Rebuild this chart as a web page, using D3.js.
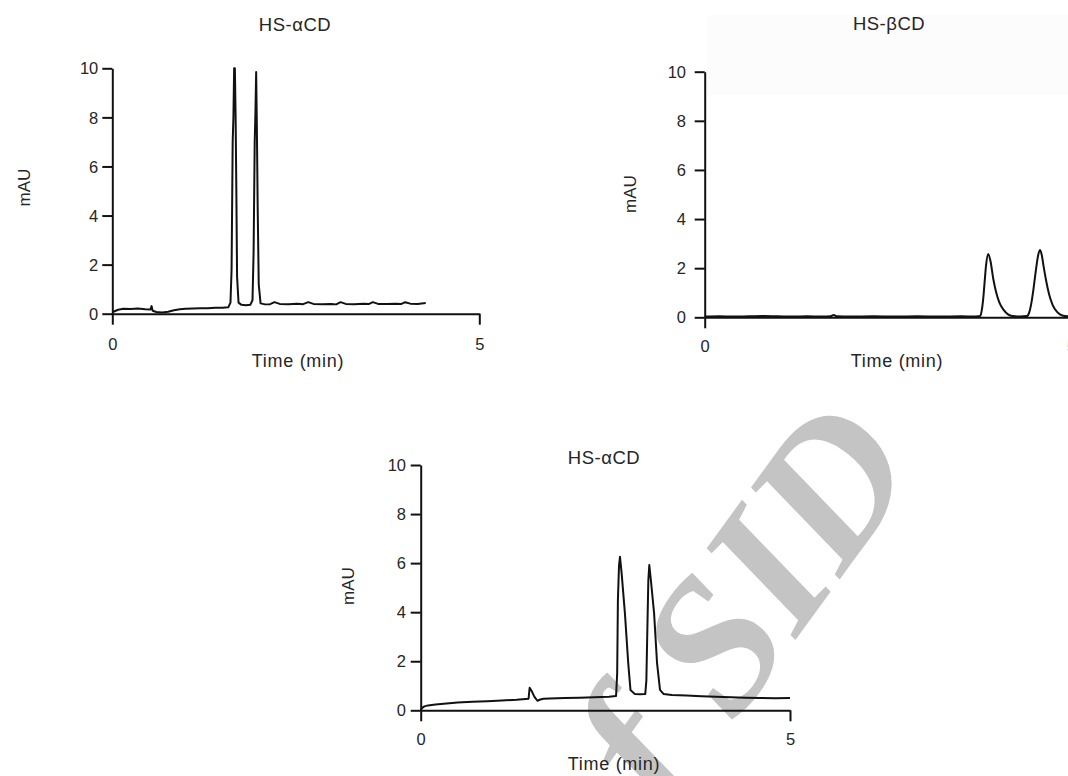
<!DOCTYPE html>
<html>
<head>
<meta charset="utf-8">
<script src="https://cdn.jsdelivr.net/npm/d3@7"></script>
<style>
  html, body { margin: 0; padding: 0; background: #fff; }
  svg { display: block; }
  text { font-family: "Liberation Sans", Arial, sans-serif; fill: #262626; }
</style>
</head>
<body>
<svg id="chart" width="1068" height="776"></svg>
<script>
// ---------------- data ----------------
const panelTitles = ["HS-\u03b1CD", "HS-\u03b2CD", "HS-\u03b1CD"];
const xTickValues = [0, 5];
const yTickValues = [0, 2, 4, 6, 8, 10];
const xAxisTitle = "Time (min)";
const yAxisTitle = "mAU";
const watermarkText = "Archive of SID";

// HS-αCD, first run (time in min, absorbance in mAU)
const alphaTime = [0.00, 0.03, 0.08, 0.15, 0.25, 0.35, 0.45, 0.52, 0.535, 0.55, 0.60, 0.68, 0.76, 0.84, 0.92,
  1.00, 1.10, 1.20, 1.30, 1.40, 1.50, 1.58, 1.61, 1.625, 1.64, 1.65, 1.66, 1.67, 1.68, 1.69, 1.70, 1.72,
  1.76, 1.82, 1.88, 1.91, 1.925, 1.94, 1.95, 1.96, 1.97, 1.98, 1.995, 2.02, 2.08, 2.15, 2.21, 2.28, 2.40,
  2.52, 2.60, 2.67, 2.74, 2.86, 2.98, 3.05, 3.11, 3.18, 3.30, 3.42, 3.50, 3.55, 3.62, 3.74, 3.86, 3.94,
  3.99, 4.06, 4.16, 4.27];
const alphaMAU = [0.06, 0.10, 0.16, 0.20, 0.19, 0.21, 0.18, 0.17, 0.31, 0.12, 0.07, 0.05, 0.08, 0.14, 0.18,
  0.20, 0.21, 0.22, 0.22, 0.24, 0.24, 0.26, 0.45, 1.8, 7.0, 8.0, 10.0, 10.0, 8.0, 5.0, 1.5, 0.45,
  0.36, 0.34, 0.36, 0.55, 2.5, 7.0, 8.2, 9.85, 7.5, 4.5, 1.2, 0.42, 0.38, 0.39, 0.47, 0.40, 0.39,
  0.41, 0.39, 0.47, 0.40, 0.39, 0.40, 0.38, 0.47, 0.40, 0.39, 0.41, 0.40, 0.47, 0.40, 0.40, 0.41, 0.40,
  0.47, 0.41, 0.40, 0.44];

// HS-βCD
const betaTime = [0.0, 0.2, 0.4, 0.6, 0.8, 1.0, 1.2, 1.4, 1.6, 1.72, 1.76, 1.80, 2.0, 2.3, 2.6, 2.9, 3.2,
  3.5, 3.7, 3.76, 3.78, 3.80, 3.82, 3.84, 3.87, 3.90, 3.94, 3.98, 4.02, 4.08, 4.14, 4.20, 4.30, 4.40,
  4.43, 4.46, 4.49, 4.52, 4.55, 4.575, 4.60, 4.63, 4.66, 4.70, 4.75, 4.81, 4.88, 4.95, 5.0];
const betaMAU = [0.03, 0.04, 0.03, 0.04, 0.05, 0.04, 0.03, 0.04, 0.03, 0.04, 0.09, 0.04, 0.03, 0.04, 0.03,
  0.04, 0.03, 0.04, 0.03, 0.05, 0.25, 0.70, 1.40, 2.10, 2.58, 2.30, 1.55, 1.00, 0.62, 0.30, 0.12, 0.05,
  0.03, 0.05, 0.20, 0.60, 1.20, 1.90, 2.50, 2.74, 2.55, 2.00, 1.50, 0.95, 0.50, 0.22, 0.07, 0.04, 0.04];

// HS-αCD, second run
const alpha2Time = [0.00, 0.02, 0.05, 0.10, 0.20, 0.35, 0.50, 0.70, 0.90, 1.10, 1.30, 1.46, 1.475, 1.50,
  1.54, 1.58, 1.62, 1.66, 1.75, 1.95, 2.15, 2.35, 2.55, 2.645, 2.66, 2.67, 2.685, 2.698, 2.72, 2.765,
  2.81, 2.84, 2.90, 2.97, 3.04, 3.055, 3.07, 3.082, 3.095, 3.12, 3.16, 3.20, 3.24, 3.29, 3.40, 3.60,
  3.80, 4.00, 4.20, 4.40, 4.60, 4.80, 5.00];
const alpha2MAU = [0.00, 0.10, 0.16, 0.20, 0.24, 0.28, 0.32, 0.35, 0.37, 0.40, 0.43, 0.47, 0.92, 0.80,
  0.55, 0.39, 0.44, 0.47, 0.48, 0.50, 0.51, 0.53, 0.55, 0.58, 1.5, 4.5, 5.9, 6.26, 5.6, 3.95,
  1.92, 0.83, 0.66, 0.65, 0.66, 1.2, 3.5, 5.3, 5.92, 5.2, 3.95, 1.92, 0.83, 0.66, 0.62, 0.60,
  0.57, 0.55, 0.53, 0.51, 0.50, 0.49, 0.50];

// ---------------- layout ----------------
const panels = [
  { title: panelTitles[0], time: alphaTime, mau: alphaMAU, curve: d3.curveLinear,
    xr: [112.3, 479.3], yr: [313.7, 68.3], yPad: 14, xLabOff: 36.3,
    titlePos: [295, 30.7], xTitlePos: [298, 367], yTitlePos: [30, 187.5] },
  { title: panelTitles[1], time: betaTime, mau: betaMAU, curve: d3.curveMonotoneX,
    xr: [704.7, 1071], yr: [317.3, 71.7], yPad: 18.7, xLabOff: 34.4,
    titlePos: [889, 30], xTitlePos: [897, 367], yTitlePos: [636, 194] },
  { title: panelTitles[2], time: alpha2Time, mau: alpha2MAU, curve: d3.curveLinear,
    xr: [420.7, 790], yr: [710.3, 465], yPad: 14.7, xLabOff: 34.7,
    titlePos: [604, 464.3], xTitlePos: [614, 770], yTitlePos: [354, 586] }
];

const svg = d3.select("#chart");

// very faint shaded band behind the HS-βCD heading
svg.append("rect")
  .attr("x", 707).attr("y", 15).attr("width", 361).attr("height", 80)
  .attr("fill", "#fcfcfc");

// diagonal watermark, drawn first so the traces sit on top
svg.append("text")
  .attr("transform", "translate(922,466) rotate(-54)")
  .attr("text-anchor", "end")
  .style("font-family", '"Liberation Serif", "Times New Roman", serif')
  .style("font-style", "italic")
  .style("font-weight", "bold")
  .style("font-size", "192px")
  .style("fill", "#c4c4c4")
  .text(watermarkText);

panels.forEach(p => {
  const x = d3.scaleLinear().domain([0, 5]).range(p.xr);
  const y = d3.scaleLinear().domain([0, 10]).range(p.yr);
  const g = svg.append("g");

  // y axis
  const ya = g.append("g")
    .attr("transform", `translate(${p.xr[0]},0)`)
    .call(d3.axisLeft(y).tickValues(yTickValues).tickSize(10).tickSizeOuter(0).tickFormat(d3.format("d")));
  ya.selectAll("text").attr("x", -p.yPad).attr("dy", "0.34em")
    .style("font-size", "16.5px").style("fill", "#262626");

  // x axis
  const xa = g.append("g")
    .attr("transform", `translate(0,${p.yr[0]})`)
    .call(d3.axisBottom(x).tickValues(xTickValues).tickSize(11).tickSizeOuter(0).tickFormat(d3.format("d")));
  xa.selectAll("text").attr("y", p.xLabOff).attr("dy", 0)
    .style("font-size", "16.5px").style("fill", "#262626");

  g.selectAll(".domain, .tick line")
    .attr("stroke", "#111").attr("stroke-width", 2);

  // trace
  const pts = p.time.map((t, i) => [t, p.mau[i]]);
  g.append("path")
    .datum(pts)
    .attr("fill", "none")
    .attr("stroke", "#111")
    .attr("stroke-width", 2)
    .attr("stroke-linejoin", "round")
    .attr("d", d3.line().x(d => x(d[0])).y(d => y(d[1])).curve(p.curve));

  // headings
  g.append("text")
    .attr("x", p.titlePos[0]).attr("y", p.titlePos[1])
    .attr("text-anchor", "middle")
    .style("font-size", "18.5px").style("letter-spacing", "0.5px")
    .text(p.title);

  g.append("text")
    .attr("x", p.xTitlePos[0]).attr("y", p.xTitlePos[1])
    .attr("text-anchor", "middle")
    .style("font-size", "18px").style("letter-spacing", "0.7px")
    .text(xAxisTitle);

  g.append("text")
    .attr("transform", `translate(${p.yTitlePos[0]},${p.yTitlePos[1]}) rotate(-90)`)
    .attr("text-anchor", "middle")
    .style("font-size", "17px")
    .text(yAxisTitle);
});
</script>
</body>
</html>
